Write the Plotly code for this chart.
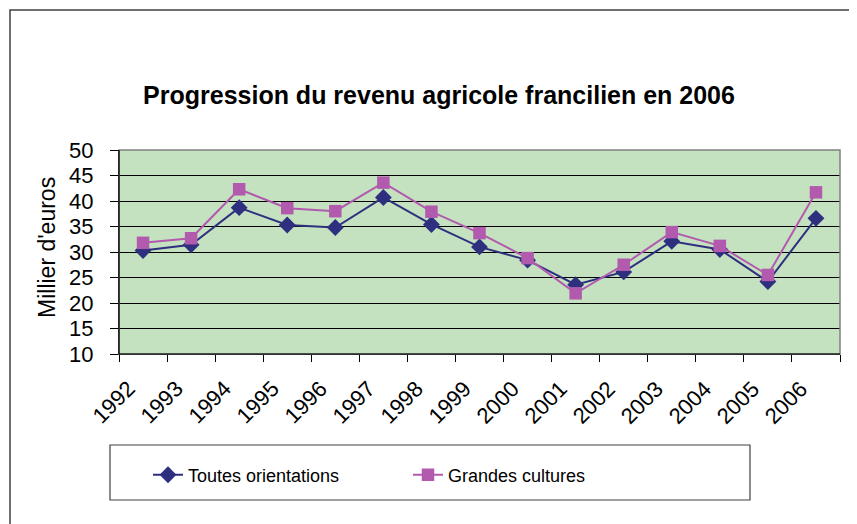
import plotly.graph_objects as go

years = ["1992", "1993", "1994", "1995", "1996", "1997", "1998", "1999",
         "2000", "2001", "2002", "2003", "2004", "2005", "2006"]
toutes_orientations = [30.3, 31.4, 38.7, 35.3, 34.8, 40.7, 35.4, 31.0,
                       28.4, 23.6, 26.1, 32.1, 30.5, 24.2, 36.6]
grandes_cultures = [31.8, 32.7, 42.3, 38.6, 38.0, 43.6, 37.9, 33.7,
                    28.8, 21.9, 27.5, 33.9, 31.2, 25.5, 41.7]

OFF = 8  # page body margin
SW, SH = 857, 524
W, H = SW - OFF, SH - OFF
L, R, T, B = 119, 840, 150, 354  # plot area in screen px
pw, ph = R - L, B - T


def px(x):
    return (x - L) / pw


def py(y):
    return (B - y) / ph


FONT = "Liberation Sans, Arial, sans-serif"
NAVY = "#2F2F7F"
MAGENTA = "#B25AAE"

fig = go.Figure()
fig.add_trace(go.Scatter(
    x=years, y=toutes_orientations, name="Toutes orientations",
    mode="lines+markers", legend="legend",
    line=dict(color=NAVY, width=2),
    marker=dict(symbol="diamond", size=13, color=NAVY),
))
fig.add_trace(go.Scatter(
    x=years, y=grandes_cultures, name="Grandes cultures",
    mode="lines+markers", legend="legend2",
    line=dict(color=MAGENTA, width=2),
    marker=dict(symbol="square", size=12.5, color=MAGENTA),
))

leg_common = dict(orientation="h", xanchor="left", yanchor="middle",
                  xref="paper", yref="paper",
                  bgcolor="rgba(0,0,0,0)", borderwidth=0,
                  font=dict(family=FONT, size=18, color="black"))

annotations = [
    dict(text="Millier d'euros", xref="paper", yref="paper",
         x=px(47), y=py(248), textangle=-90, showarrow=False,
         xanchor="center", yanchor="middle",
         font=dict(family=FONT, size=23, color="black")),
]
for i, yr in enumerate(years):
    annotations.append(dict(
        text=yr, xref="x", yref="paper", x=i, y=py(402), xshift=-30,
        textangle=-45, showarrow=False, xanchor="center", yanchor="middle",
        font=dict(family=FONT, size=22, color="black")))

fig.update_layout(
    width=W, height=H, autosize=False,
    margin=dict(l=L - OFF, r=W - (R - OFF), t=T - OFF, b=H - (B - OFF), pad=0),
    paper_bgcolor="white",
    plot_bgcolor="#C4E2C0",
    font=dict(family=FONT, size=20, color="black"),
    title=dict(text="<b>Progression du revenu agricole francilien en 2006</b>",
               x=px(439), xref="paper", xanchor="center",
               y=1 - (95 - OFF) / H, yref="container", yanchor="middle",
               font=dict(family=FONT, size=25, color="black")),
    showlegend=True,
    legend=dict(x=px(148), y=py(475), **leg_common),
    legend2=dict(x=px(408), y=py(475), **leg_common),
    xaxis=dict(type="category", tickson="boundaries", ticks="outside", ticklen=7,
               tickcolor="black", tickwidth=1, showgrid=False,
               showline=True, linecolor="black", linewidth=1,
               showticklabels=False,
               range=[-0.5, 14.5], fixedrange=True),
    yaxis=dict(range=[10, 50], dtick=5, tick0=10, ticks="outside", ticklen=8,
               tickcolor="black", tickwidth=1,
               showgrid=True, gridcolor="black", gridwidth=1,
               showline=True, linecolor="black", linewidth=1,
               zeroline=False, tickfont=dict(family=FONT, size=22),
               ticklabelstandoff=12),
    shapes=[
        dict(type="rect", xref="paper", yref="paper", x0=0, x1=1, y0=0, y1=1,
             line=dict(color="#808080", width=1.5), layer="above"),
        dict(type="rect", xref="paper", yref="paper",
             x0=px(10), x1=px(852), y0=py(10), y1=py(530),
             line=dict(color="#404040", width=1.5), layer="above"),
        dict(type="rect", xref="paper", yref="paper",
             x0=px(110), x1=px(750), y0=py(445), y1=py(500),
             line=dict(color="#404040", width=1.2), layer="above"),
        dict(type="line", xref="paper", yref="paper", x0=0, x1=0, y0=0, y1=1,
             line=dict(color="black", width=1.2), layer="above"),
        dict(type="line", xref="paper", yref="paper", x0=0, x1=1, y0=0, y1=0,
             line=dict(color="black", width=1.2), layer="above"),
    ],
    annotations=annotations,
)

fig.write_html("out.html")
